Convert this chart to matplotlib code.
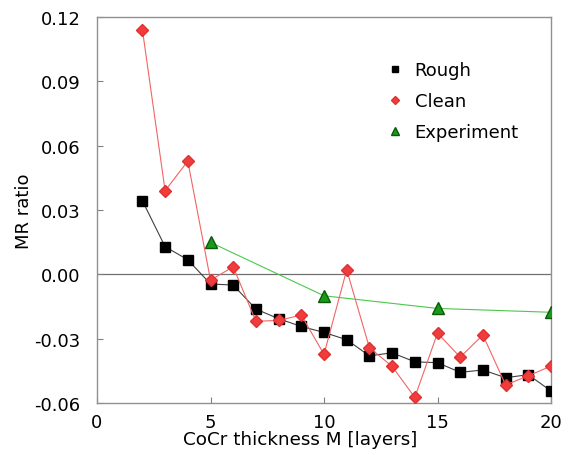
import numpy as np
import matplotlib.pyplot as plt

plt.rcParams['font.family'] = ['DejaVu Sans']

# CoCr thickness (layers)
layers = [2, 3, 4, 5, 6, 7, 8, 9, 10, 11, 12, 13, 14, 15, 16, 17, 18, 19, 20]

# MR ratio, rough interface
rough = [0.0343, 0.0129, 0.0068, -0.0045, -0.0050, -0.0162, -0.0207, -0.0243,
         -0.0271, -0.0305, -0.0380, -0.0366, -0.0408, -0.0412, -0.0457, -0.0446,
         -0.0482, -0.0468, -0.0544]

# MR ratio, clean interface
clean = [0.1141, 0.0390, 0.0528, -0.0027, 0.0035, -0.0219, -0.0215, -0.0190,
         -0.0373, 0.0021, -0.0342, -0.0429, -0.0574, -0.0274, -0.0386, -0.0283,
         -0.0516, -0.0473, -0.0428]

# experimental values
exp_layers = [5, 10, 15, 20]
experiment = [0.0149, -0.0100, -0.0159, -0.0177]

fig = plt.figure(figsize=(5.75, 4.56), dpi=100)
ax = fig.add_axes([97/575, 1 - 404/456, (551 - 97)/575, (404 - 18)/456])

ax.axhline(0, color='#707070', lw=0.9, zorder=1)

ax.plot(layers, rough, color='#404040', lw=0.8, marker='s', ms=6.5,
        mfc='black', mec='black', label='Rough', zorder=3)
ax.plot(layers, clean, color='#f26464', lw=0.8, marker='D', ms=6,
        mfc='#f03c3c', mec='#e03030', label='Clean', zorder=4)
ax.plot(exp_layers, experiment, color='#4cc84c', lw=0.8, marker='^', ms=8,
        mfc='#1a9a1a', mec='#0a5a0a', label='Experiment', zorder=5)

ax.set_xlim(0, 20)
ax.set_ylim(-0.06, 0.12)
ax.set_xticks([0, 5, 10, 15, 20])
ax.set_yticks(np.arange(-0.06, 0.1201, 0.03))
ax.set_yticklabels(['-0.06', '-0.03', '0.00', '0.03', '0.06', '0.09', '0.12'])
ax.tick_params(direction='in', length=4, color='#808080', labelsize=13)
ax.tick_params(axis='y', pad=12)
ax.tick_params(axis='x', pad=7)
for s in ax.spines.values():
    s.set_color('#909090')
    s.set_linewidth(1.0)

ax.set_xlabel('CoCr thickness M [layers]', fontsize=13.2)
ax.xaxis.set_label_coords(0.447, -0.07, transform=ax.transAxes)
ax.set_ylabel('MR ratio', fontsize=13)
ax.yaxis.set_label_coords(-0.141, 0.5, transform=ax.transAxes)

leg = ax.legend(loc='upper left', bbox_to_anchor=(0.6, 0.927), frameon=False,
                fontsize=13, handlelength=1.0, handletextpad=0.6,
                labelspacing=0.72, numpoints=1, markerscale=0.7)
for h in leg.legend_handles:
    h.set_linestyle('None')

fig.savefig('out.png', dpi=100)
